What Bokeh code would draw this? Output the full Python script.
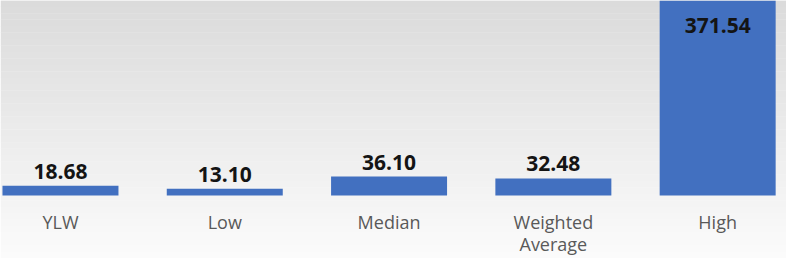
import numpy as np
from bokeh.plotting import figure
from bokeh.models import ColumnDataSource, Range1d, BoxAnnotation
from bokeh.core.properties import value
from bokeh.embed import file_html
from bokeh.resources import INLINE

categories = ["YLW", "Low", "Median", "Weighted\nAverage", "High"]
values = [18.68, 13.10, 36.10, 32.48, 371.54]
value_labels = ["18.68", "13.10", "36.10", "32.48", "371.54"]

W, H = 786, 258
xs = list(range(len(categories)))
vmax = max(values)
y_lo = -120.0
p = figure(width=W, height=H, output_backend="svg", toolbar_location=None,
           x_range=Range1d(-0.365, 4.419), y_range=Range1d(y_lo, vmax),
           min_border=0)
p.axis.visible = False
p.grid.visible = False
p.outline_line_color = None

# vertical gradient background
n = 40
edges = np.linspace(y_lo, vmax, n + 1)
c_top = np.array([219, 219, 219])
c_bot = np.array([252, 252, 252])
for i in range(n):
    t = (i + 0.5) / n
    c = (c_bot * (1 - t) + c_top * t).astype(int)
    p.add_layout(BoxAnnotation(bottom=edges[i], top=edges[i + 1] + 0.5,
                               fill_color="#%02x%02x%02x" % tuple(c), fill_alpha=1,
                               line_color=None, level="underlay"))

inside = [v > 0.9 * vmax for v in values]
lines = [c.split("\n") for c in categories]
src = ColumnDataSource(dict(
    x=xs, top=values, lab=value_labels,
    line1=[l[0] for l in lines],
    line2=[l[1] if len(l) > 1 else "" for l in lines],
    base=["top" if f else "bottom" for f in inside],
    yoff=[17 if f else -7 for f in inside],
    zero=[0] * len(xs),
))

p.vbar(x="x", top="top", width=0.706, source=src, fill_color="#4270c0",
       line_color=None)

p.text(x="x", y="top", text="lab", source=src, text_align="center",
       text_baseline="base", y_offset="yoff", text_font=value("Open Sans"),
       text_font_style="bold", text_font_size="21px", text_color="#141414")

for col, off in (("line1", 26), ("line2", 48)):
    p.text(x="x", y="zero", text=col, source=src, text_align="center",
           text_baseline="middle", y_offset=off, text_font=value("Open Sans"),
           text_font_size="18px", text_color="#595959")

open("out.html", "w").write(file_html(p, INLINE))
